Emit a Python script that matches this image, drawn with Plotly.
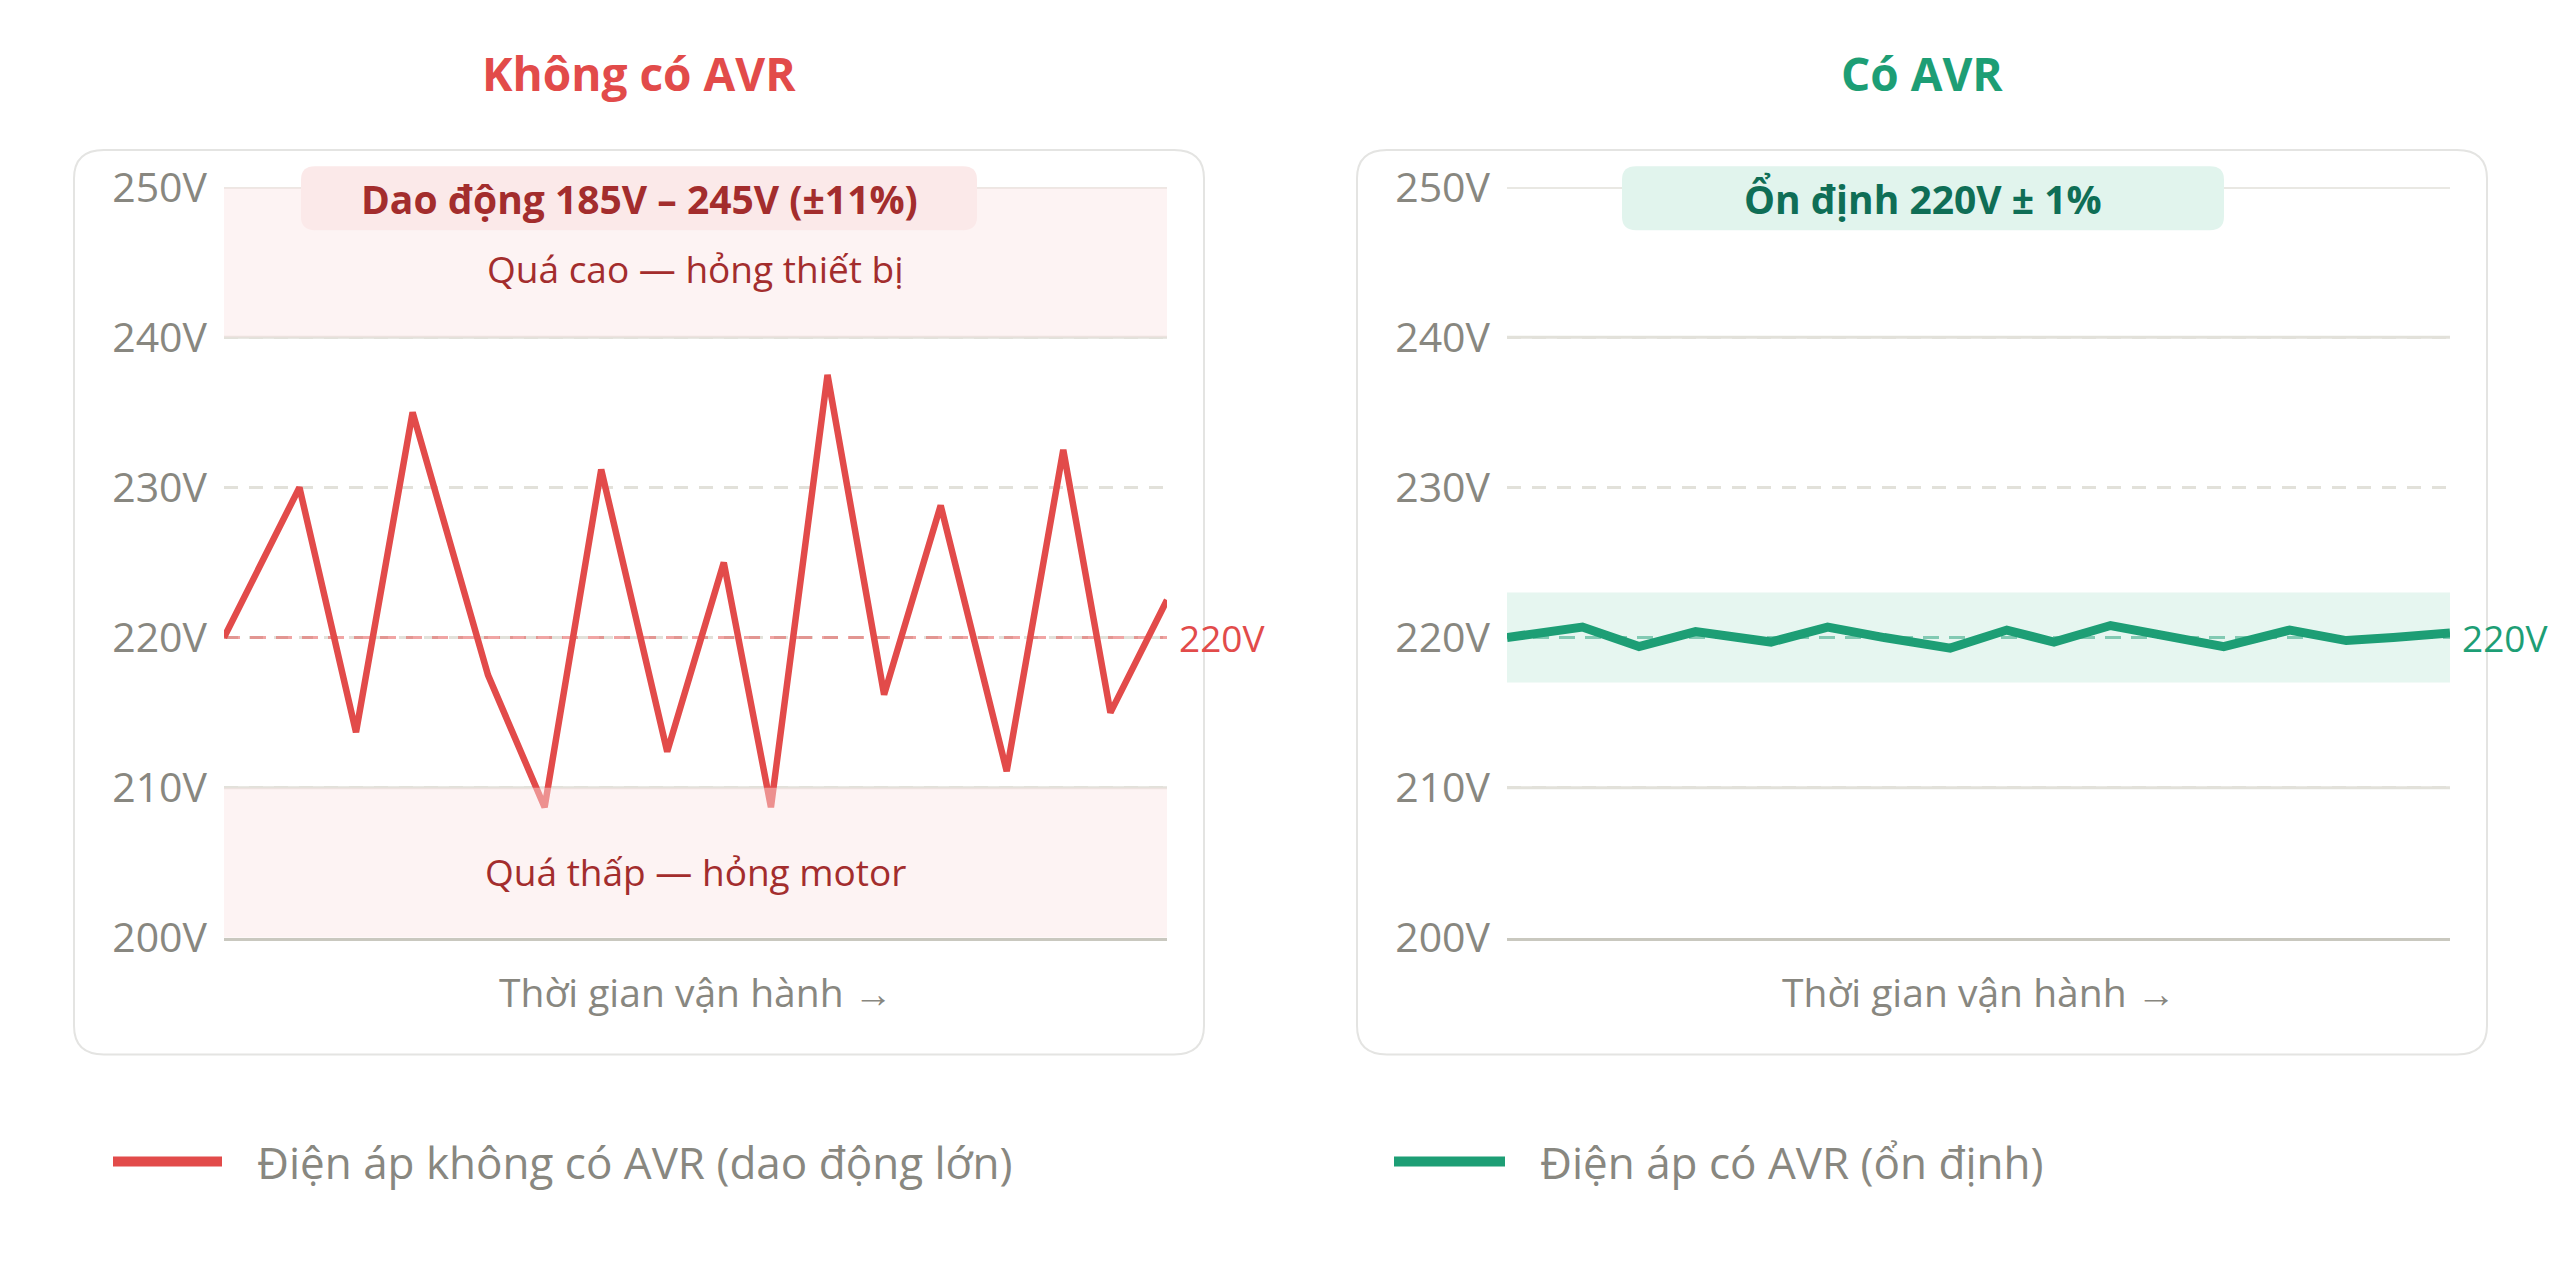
import plotly.graph_objects as go

# du lieu doc tu hinh
thoi_gian = [0, 8, 14, 20, 28, 34, 40, 47, 53, 58, 64, 70, 76, 83, 89, 94, 100]
dien_ap_khong_avr = [220, 230, 213.7, 235, 217.5, 208.7, 231.2, 212.4, 225,
                     208.7, 237.5, 216.2, 228.8, 211.1, 232.5, 215, 222.5]
dien_ap_co_avr = [220, 220.7, 219.4, 220.4, 219.7, 220.7, 220.0, 219.3, 220.5,
                  219.7, 220.8, 220.1, 219.4, 220.5, 219.8, 220.0, 220.3]
y_ticks = [200, 210, 220, 230, 240, 250]
y_tick_labels = ["200V", "210V", "220V", "230V", "240V", "250V"]

W, H = 2560, 1280
FONT = "Segoe UI, Open Sans, Noto Sans, sans-serif"
RED = "#E24B4A"
GREEN = "#1D9E75"
GRAY = "#888780"
GRID = "#e2e1da"

# vi tri (pixel)
PLOT_TOP, PLOT_BOT = 156, 941
L_X0, L_X1 = 216, 1159
R_X0, R_X1 = 1499, 2442
CARD_TOP, CARD_BOT = 117, 1063
TITLE_Y = 37
BOX_TOP, BOX_BOT = 134, 201
AXIS_TITLE_Y = 997
LEGEND_Y = 1175


def px(x):
    return x / W


def py(y):
    return 1 - y / H


def khung_bo_tron(x0, y0, x1, y1, r):
    # duong dan hinh chu nhat bo goc, toa do pixel -> paper
    pts = [
        ("M", px(x0 + r), py(y0)),
        ("L", px(x1 - r), py(y0)),
        ("Q", px(x1), py(y0), px(x1), py(y0 + r)),
        ("L", px(x1), py(y1 - r)),
        ("Q", px(x1), py(y1), px(x1 - r), py(y1)),
        ("L", px(x0 + r), py(y1)),
        ("Q", px(x0), py(y1), px(x0), py(y1 - r)),
        ("L", px(x0), py(y0 + r)),
        ("Q", px(x0), py(y0), px(x0 + r), py(y0)),
    ]
    s = ""
    for p in pts:
        s += p[0] + " " + " ".join(f"{v:.5f}" for v in p[1:]) + " "
    return s + "Z"


fig = go.Figure()

fig.add_trace(go.Scatter(x=thoi_gian, y=dien_ap_khong_avr, mode="lines",
                         line=dict(color=RED, width=6.5), xaxis="x", yaxis="y",
                         showlegend=False, hoverinfo="skip"))
fig.add_trace(go.Scatter(x=thoi_gian, y=dien_ap_co_avr, mode="lines",
                         line=dict(color=GREEN, width=9), xaxis="x2", yaxis="y2",
                         showlegend=False, hoverinfo="skip"))

truc_y = dict(range=[200, 250], tickvals=y_ticks, ticktext=y_tick_labels, showgrid=True,
              gridcolor=GRID, gridwidth=3, griddash="14px,11px", zeroline=False,
              showline=False, ticks="", ticklabelstandoff=16,
              tickfont=dict(family=FONT, size=41, color=GRAY), fixedrange=True)
truc_x = dict(range=[0, 100], showgrid=False, zeroline=False, showticklabels=False,
              showline=True, linecolor="#c9c8bf", linewidth=3, ticks="", fixedrange=True)

fig.update_layout(
    width=W, height=H,
    margin=dict(l=0, r=0, t=0, b=0),
    paper_bgcolor="white", plot_bgcolor="rgba(0,0,0,0)",
    xaxis=dict(truc_x, domain=[px(L_X0), px(L_X1)]),
    yaxis=dict(truc_y, domain=[py(PLOT_BOT), py(PLOT_TOP)]),
    xaxis2=dict(truc_x, domain=[px(R_X0), px(R_X1)], anchor="y2"),
    yaxis2=dict(truc_y, domain=[py(PLOT_BOT), py(PLOT_TOP)], anchor="x2"),
)

shapes = []
# the khung
for x0, x1 in [(66, 1196), (1349, 2479)]:
    shapes.append(dict(type="path", path=khung_bo_tron(x0, CARD_TOP, x1, CARD_BOT, 30),
                       xref="paper", yref="paper", line=dict(color="#e4e4e2", width=2),
                       fillcolor="white", layer="below"))

for xr, yr in [("x", "y"), ("x2", "y2")]:
    for v in [250, 240, 210]:
        shapes.append(dict(type="line", xref=xr, yref=yr, x0=0, x1=100, y0=v, y1=v,
                           line=dict(color=GRID, width=3), layer="between"))

# vung nguy hiem (ben trai)
for a, b in [(240, 250), (200, 210)]:
    shapes.append(dict(type="rect", xref="x", yref="y", x0=0, x1=100, y0=a, y1=b,
                       fillcolor="rgba(250,228,228,0.45)", line=dict(width=0), layer="above"))
shapes.append(dict(type="line", xref="x", yref="y", x0=0, x1=100, y0=220, y1=220,
                   line=dict(color="rgba(226,75,74,0.5)", width=3, dash="16px,10px"),
                   layer="between"))

# vung on dinh (ben phai)
shapes.append(dict(type="rect", xref="x2", yref="y2", x0=0, x1=100, y0=217, y1=223,
                   fillcolor="#e6f6f0", line=dict(width=0), layer="between"))
shapes.append(dict(type="line", xref="x2", yref="y2", x0=0, x1=100, y0=220, y1=220,
                   line=dict(color="rgba(29,158,117,0.5)", width=3, dash="16px,10px"),
                   layer="between"))

# hop nhan tren cung
shapes.append(dict(type="path", path=khung_bo_tron(293, BOX_TOP, 969, BOX_BOT, 14),
                   xref="paper", yref="paper", line=dict(width=0),
                   fillcolor="#fbe9e9", layer="above"))
shapes.append(dict(type="path", path=khung_bo_tron(1614, BOX_TOP, 2216, BOX_BOT, 14),
                   xref="paper", yref="paper", line=dict(width=0),
                   fillcolor="#e1f4ed", layer="above"))

# chu giai
for x0, x1, c in [(105, 214, RED), (1386, 1497, GREEN)]:
    shapes.append(dict(type="line", xref="paper", yref="paper", x0=px(x0), x1=px(x1),
                       y0=py(LEGEND_Y), y1=py(LEGEND_Y), line=dict(color=c, width=10)))

fig.update_layout(shapes=shapes)


def chu(text, x, y, size, color, xref="paper", yref="paper", xanchor="center", **kw):
    return dict(text=text, x=x, y=y, xref=xref, yref=yref, xanchor=xanchor,
                yanchor="middle", showarrow=False,
                font=dict(family=FONT, size=size, color=color), **kw)


box_y = py((BOX_TOP + BOX_BOT) / 2)
ann = [
    chu("<b>Không có AVR</b>", px(631), py(TITLE_Y), 46, RED),
    chu("<b>Có AVR</b>", px(1914), py(TITLE_Y), 46, GREEN),
    chu("<b>Dao động 185V – 245V (±11%)</b>", px(631), box_y, 39, "#A32D2D"),
    chu("<b>Ổn định 220V ± 1%</b>", px(1915), box_y, 39, "#0F6E56"),
    chu("Quá cao — hỏng thiết bị", 50, 244.6, 37, "#A32D2D", xref="x", yref="y"),
    chu("Quá thấp — hỏng motor", 50, 204.4, 37, "#A32D2D", xref="x", yref="y"),
    chu("220V", 100, 220, 37, RED, xref="x", yref="y", xanchor="left", xshift=10),
    chu("220V", 100, 220, 37, GREEN, xref="x2", yref="y2", xanchor="left", xshift=10),
    chu("Thời gian vận hành →", 0.5, py(AXIS_TITLE_Y), 39, GRAY, xref="x domain"),
    chu("Thời gian vận hành →", 0.5, py(AXIS_TITLE_Y), 39, GRAY, xref="x2 domain"),
    chu("Điện áp không có AVR (dao động lớn)", px(247), py(LEGEND_Y), 44, GRAY, xanchor="left"),
    chu("Điện áp có AVR (ổn định)", px(1530), py(LEGEND_Y), 44, GRAY, xanchor="left"),
]
fig.update_layout(annotations=ann)

fig.write_html("out.html")
